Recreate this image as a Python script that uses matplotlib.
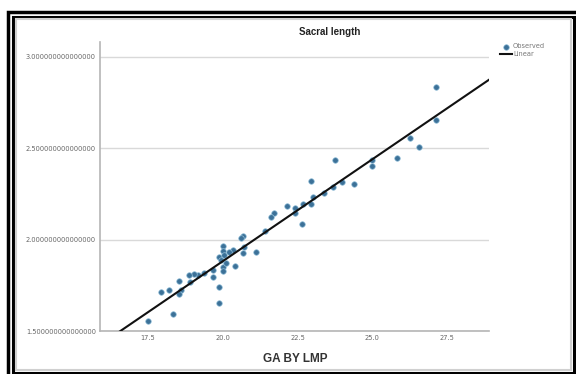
import numpy as np
import matplotlib
matplotlib.use("Agg")
import matplotlib.pyplot as plt
from matplotlib.patches import Rectangle

# GA by LMP (weeks) vs sacral length
ga = [27.14, 27.14, 26.25, 26.56, 25.83, 25.0, 25.0, 23.77, 24.38, 23.98,
      23.67, 23.37, 22.95, 23.03, 22.94, 22.69, 22.64, 22.42, 22.42, 22.15,
      21.71, 21.61, 21.43, 21.10, 20.69, 20.60, 20.69, 20.70, 20.40, 20.36,
      20.20, 20.0, 20.0, 19.87, 20.06, 20.0, 20.0, 19.87, 19.87, 19.68,
      19.68, 19.38, 19.19, 19.05, 18.86, 18.91, 18.54, 18.61, 18.54, 18.22,
      17.93, 18.33, 17.5, 19.93, 20.12]
sacral = [2.833, 2.655, 2.555, 2.504, 2.444, 2.433, 2.404, 2.433, 2.305, 2.315,
          2.287, 2.255, 2.322, 2.233, 2.193, 2.193, 2.084, 2.175, 2.145, 2.184,
          2.145, 2.124, 2.047, 1.933, 2.022, 2.011, 1.924, 1.960, 1.855, 1.942,
          1.933, 1.964, 1.938, 1.905, 1.915, 1.851, 1.829, 1.742, 1.655, 1.793,
          1.833, 1.815, 1.805, 1.811, 1.805, 1.769, 1.775, 1.724, 1.705, 1.724,
          1.713, 1.593, 1.555, 1.887, 1.870]
xticks = [17.5, 20.0, 22.5, 25.0, 27.5]
yticks = [1.5, 2.0, 2.5, 3.0]

W, H = 576, 374
fig = plt.figure(figsize=(W / 100, H / 100), dpi=100)
ax = fig.add_axes([100 / W, 1 - 331 / H, 389 / W, 289 / H])

x = np.array(ga)
y = np.array(sacral)
ax.scatter(x, y, s=16, c="#3c7198", edgecolors="#92bfd9", linewidths=0.5,
           zorder=3, label="Observed")

# linear fit line
b, a = np.polyfit(x, y, 1)
xl = np.array([15.0, 30.0])
ax.plot(xl, a + b * xl, color="#111111", lw=1.5, zorder=4, label="Linear")

ax.set_xlim(15.9, 28.9)
ax.set_ylim(1.5, 3.08)
ax.set_xticks(xticks)
ax.set_xticklabels([f"{t:.1f}" for t in xticks])
ax.set_yticks(yticks)
ax.set_yticklabels([f"{t:.15f}" for t in yticks])
ax.tick_params(length=0, labelsize=4.8, labelcolor="#666666", pad=3)
ax.grid(axis="y", color="#d9d9d9", lw=1)
ax.set_axisbelow(True)
for s in ["top", "right"]:
    ax.spines[s].set_visible(False)
for s in ["left", "bottom"]:
    ax.spines[s].set_color("#b5b5b5")
    ax.spines[s].set_linewidth(1.2)

fig.text(330 / W, 1 - 32 / H, "Sacral length", ha="center", va="center",
         fontsize=7, fontweight="bold", color="#222222", family="Liberation Sans")
fig.text(295 / W, 1 - 359 / H, "GA BY LMP", ha="center", va="center",
         fontsize=8.5, fontweight="bold", color="#333333", family="Liberation Sans")

ax.legend(loc="upper left", bbox_to_anchor=(497 / W, 1 - 40 / H),
          bbox_transform=fig.transFigure, frameon=False, fontsize=4.8,
          labelcolor="#777777", handlelength=1.8, handletextpad=0.1,
          borderpad=0, labelspacing=0.3)

# picture frame: double black line, cut by the right and bottom edges
fig.add_artist(Rectangle((7.5 / W, 1 - 380 / H), 580 / W, 368.5 / H,
                         fill=False, ec="black", lw=2.5, transform=fig.transFigure))
fig.add_artist(Rectangle((12.5 / W, 1 - 372.5 / H), 561.5 / W, 356 / H,
                         fill=False, ec="black", lw=2.2, transform=fig.transFigure))
fig.add_artist(Rectangle((15.5 / W, 1 - 369.5 / H), 555 / W, 351 / H,
                         fill=False, ec="#d0d0d0", lw=1.5, transform=fig.transFigure))

fig.savefig("out.png", dpi=100)
